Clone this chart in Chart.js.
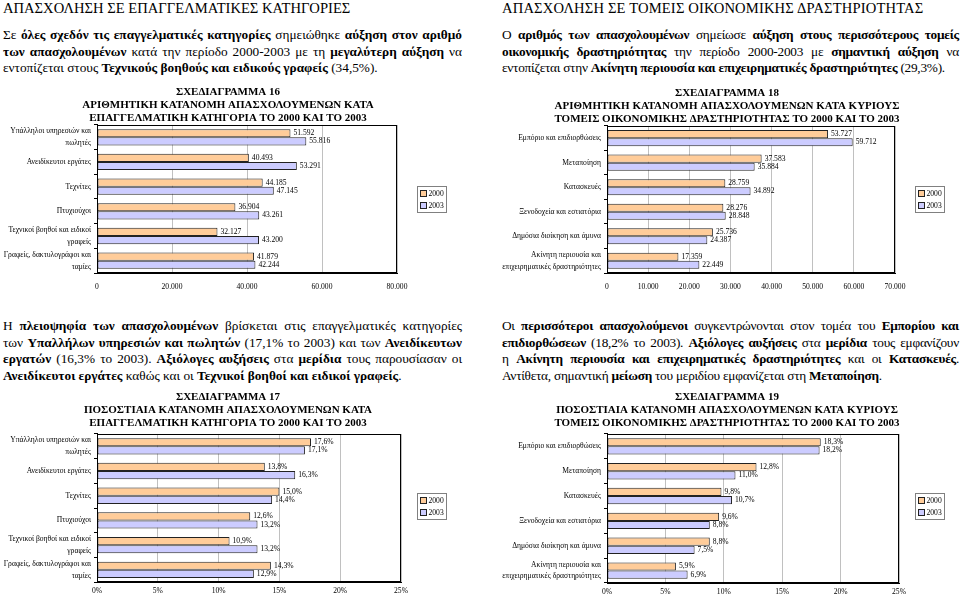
<!DOCTYPE html>
<html><head><meta charset="utf-8">
<script src="https://cdn.jsdelivr.net/npm/chart.js@4"></script>
<style>
body{margin:0;width:960px;height:597px;background:#fff;position:relative;overflow:hidden;font-family:'Liberation Serif',Tinos,'Times New Roman',serif;color:#000}
.h{position:absolute;font-size:14.6px;line-height:16px;top:0;white-space:nowrap}
.p{position:absolute;font-size:13.3px;line-height:16.5px;margin:0}
.p.r{letter-spacing:-0.25px}
.p div{text-align:justify;text-align-last:justify}
.p div.l{text-align:left;text-align-last:left}
canvas{position:absolute}
</style></head><body>
<div class="h" style="left:3px">ΑΠΑΣΧΟΛΗΣΗ ΣΕ ΕΠΑΓΓΕΛΜΑΤΙΚΕΣ ΚΑΤΗΓΟΡΙΕΣ</div>
<div class="h" style="left:502px;letter-spacing:0.15px">ΑΠΑΣΧΟΛΗΣΗ ΣΕ ΤΟΜΕΙΣ ΟΙΚΟΝΟΜΙΚΗΣ ΔΡΑΣΤΗΡΙΟΤΗΤΑΣ</div>
<div class="p" style="left:3px;top:27px;width:459px">
<div>Σε <b>όλες σχεδόν τις επαγγελματικές κατηγορίες</b> σημειώθηκε <b>αύξηση στον αριθμό</b></div>
<div><b>των απασχολουμένων</b> κατά την περίοδο 2000-2003 με τη <b>μεγαλύτερη αύξηση</b> να</div>
<div class="l">εντοπίζεται στους <b>Τεχνικούς βοηθούς και ειδικούς γραφείς</b> (34,5%).</div>
</div>
<div class="p r" style="left:502px;top:27px;width:457px">
<div>Ο <b>αριθμός των απασχολουμένων</b> σημείωσε <b>αύξηση στους περισσότερους τομείς</b></div>
<div><b>οικονομικής δραστηριότητας</b> την περίοδο 2000-2003 με <b>σημαντική αύξηση</b> να</div>
<div class="l">εντοπίζεται στην <b>Ακίνητη περιουσία και επιχειρηματικές δραστηριότητες</b> (29,3%).</div>
</div>
<div class="p" style="left:3px;top:318px;width:459px">
<div>Η <b>πλειοψηφία των απασχολουμένων</b> βρίσκεται στις επαγγελματικές κατηγορίες</div>
<div>των <b>Υπαλλήλων υπηρεσιών και πωλητών</b> (17,1% το 2003) και των <b>Ανειδίκευτων</b></div>
<div><b>εργατών</b> (16,3% το 2003). <b>Αξιόλογες αυξήσεις</b> στα <b>μερίδια</b> τους παρουσίασαν οι</div>
<div class="l"><b>Ανειδίκευτοι εργάτες</b> καθώς και οι <b>Τεχνικοί βοηθοί και ειδικοί γραφείς</b>.</div>
</div>
<div class="p r" style="left:502px;top:318px;width:457px">
<div>Οι <b>περισσότεροι απασχολούμενοι</b> συγκεντρώνονται στον τομέα του <b>Εμπορίου και</b></div>
<div><b>επιδιορθώσεων</b> (18,2% το 2003). <b>Αξιόλογες αυξήσεις</b> στα <b>μερίδια</b> τους εμφανίζουν</div>
<div>η <b>Ακίνητη περιουσία και επιχειρηματικές δραστηριότητες</b> και οι <b>Κατασκευές</b>.</div>
<div class="l">Αντίθετα, σημαντική <b>μείωση</b> του μεριδίου εμφανίζεται στη <b>Μεταποίηση</b>.</div>
</div>
<canvas id="c16" width="456" height="211" style="left:0;top:86px"></canvas>
<canvas id="c18" width="454" height="210" style="left:500px;top:87px"></canvas>
<canvas id="c17" width="456" height="206" style="left:0;top:391px"></canvas>
<canvas id="c19" width="454" height="206" style="left:500px;top:391px"></canvas>
<script>
// ---- data ----
const seriesLabels = ["2000", "2003"];
const occupations = [["Υπάλληλοι υπηρεσιών και","πωλητές"], "Ανειδίκευτοι εργάτες", "Τεχνίτες", "Πτυχιούχοι", ["Τεχνικοί βοηθοί και ειδικοί","γραφείς"], ["Γραφείς, δακτυλογράφοι και","ταμίες"]];
const sectors = ["Εμπόριο και επιδιορθώσεις", "Μεταποίηση", "Κατασκευές", "Ξενοδοχεία και εστιατόρια", "Δημόσια διοίκηση και άμυνα", ["Ακίνητη περιουσία και","επιχειρηματικές δραστηριότητες"]];
const occCount2000 = [51592, 40493, 44185, 36904, 32127, 41879];
const occCount2003 = [55816, 53291, 47145, 43261, 43200, 42244];
const occPct2000 = [17.6, 13.8, 15.0, 12.6, 10.9, 14.3];
const occPct2003 = [17.1, 16.3, 14.4, 13.2, 13.2, 12.9];
const secCount2000 = [53727, 37583, 28759, 28276, 25736, 17359];
const secCount2003 = [59712, 35884, 34892, 28848, 24387, 22449];
const secPct2000 = [18.3, 12.8, 9.8, 9.6, 8.8, 5.9];
const secPct2003 = [18.2, 11.0, 10.7, 8.8, 7.5, 6.9];
const title16 = ["ΣΧΕΔΙΑΓΡΑΜΜΑ 16", "ΑΡΙΘΜΗΤΙΚΗ ΚΑΤΑΝΟΜΗ ΑΠΑΣΧΟΛΟΥΜΕΝΩΝ ΚΑΤΑ", "ΕΠΑΓΓΕΛΜΑΤΙΚΗ ΚΑΤΗΓΟΡΙΑ ΤΟ 2000 ΚΑΙ ΤΟ 2003"];
const title17 = ["ΣΧΕΔΙΑΓΡΑΜΜΑ 17", "ΠΟΣΟΣΤΙΑΙΑ ΚΑΤΑΝΟΜΗ ΑΠΑΣΧΟΛΟΥΜΕΝΩΝ ΚΑΤΑ", "ΕΠΑΓΓΕΛΜΑΤΙΚΗ ΚΑΤΗΓΟΡΙΑ ΤΟ 2000 ΚΑΙ ΤΟ 2003"];
const title18 = ["ΣΧΕΔΙΑΓΡΑΜΜΑ 18", "ΑΡΙΘΜΗΤΙΚΗ ΚΑΤΑΝΟΜΗ ΑΠΑΣΧΟΛΟΥΜΕΝΩΝ ΚΑΤΑ ΚΥΡΙΟΥΣ", "ΤΟΜΕΙΣ ΟΙΚΟΝΟΜΙΚΗΣ ΔΡΑΣΤΗΡΙΟΤΗΤΑΣ ΤΟ 2000 ΚΑΙ ΤΟ 2003"];
const title19 = ["ΣΧΕΔΙΑΓΡΑΜΜΑ 19", "ΠΟΣΟΣΤΙΑΙΑ ΚΑΤΑΝΟΜΗ ΑΠΑΣΧΟΛΟΥΜΕΝΩΝ ΚΑΤΑ ΚΥΡΙΟΥΣ", "ΤΟΜΕΙΣ ΟΙΚΟΝΟΜΙΚΗΣ ΔΡΑΣΤΗΡΙΟΤΗΤΑΣ ΤΟ 2000 ΚΑΙ ΤΟ 2003"];

// ---- rendering ----
const FF = "'Liberation Serif', Tinos, 'Times New Roman', serif";
const SMALL = 7.6;
Chart.defaults.font.family = FF;
const numFmt = v => Math.round(v).toString().replace(/\B(?=(\d{3})+(?!\d))/g, ".");
const pctFmt = v => v.toFixed(1).replace(".", ",") + "%";
const pctTick = v => v + "%";

const extras = {
  id: "extras",
  afterDatasetsDraw(chart, args, o) {
    const ctx = chart.ctx, a = chart.chartArea;
    ctx.save();
    ctx.strokeStyle = "#000"; ctx.lineWidth = 1;
    ctx.strokeRect(Math.round(a.left) + 0.5, Math.round(a.top) + 0.5, Math.round(a.right - a.left) - 1, Math.round(a.bottom - a.top) - 1);
    ctx.font = SMALL + "px " + FF; ctx.fillStyle = "#000"; ctx.textBaseline = "middle"; ctx.textAlign = "left";
    chart.data.datasets.forEach((ds, i) => {
      chart.getDatasetMeta(i).data.forEach((el, j) => {
        ctx.fillText(o.fmt(ds.data[j]), el.x + 3, el.y);
      });
    });
    // legend box
    const lx = Math.round(a.right + o.legDx) + 0.5, ly = Math.round((a.top + a.bottom) / 2 - 13 + o.legDy) + 0.5;
    ctx.strokeStyle = "#808080";
    ctx.strokeRect(lx, ly, 29, 26);
    chart.data.datasets.forEach((ds, i) => {
      const yy = ly + 7 + i * 12;
      ctx.fillStyle = ds.backgroundColor;
      ctx.fillRect(lx + 3, yy - 3, 6, 6);
      ctx.strokeStyle = "#222";
      ctx.strokeRect(lx + 3, yy - 3, 6, 6);
      ctx.fillStyle = "#000";
      ctx.fillText(ds.label, lx + 11, yy + 0.5);
    });
    ctx.restore();
  }
};

function makeChart(id, cats, a, b, o) {
  new Chart(document.getElementById(id), {
    type: "bar",
    data: {
      labels: cats,
      datasets: [
        { label: seriesLabels[0], data: a, xAxisID: "x", yAxisID: "y", backgroundColor: "#FFCC99", borderColor: "#222", borderWidth: 1, borderSkipped: false },
        { label: seriesLabels[1], data: b, xAxisID: "x", yAxisID: "y", backgroundColor: "#CCCCFF", borderColor: "#222", borderWidth: 1, borderSkipped: false }
      ]
    },
    options: {
      indexAxis: "y",
      responsive: false,
      animation: false,
      events: [],
      categoryPercentage: 0.66,
      barPercentage: 1.0,
      layout: { padding: 0 },
      plugins: {
        legend: { display: false },
        tooltip: { enabled: false },
        title: { display: true, text: o.title, color: "#000", font: { family: FF, size: 11, weight: "bold", lineHeight: 1.18 }, padding: { top: 0, bottom: o.tpad } },
        extras: { fmt: o.fmt, legDx: o.legDx, legDy: o.legDy }
      },
      scales: {
        x: {
          min: 0, max: o.max,
          ticks: { stepSize: o.step, callback: o.tick, color: "#000", font: { family: FF, size: SMALL }, padding: o.xpad, maxRotation: 0, autoSkip: false },
          grid: { color: "#c0c0c0", drawTicks: false },
          border: { color: "#000" },
          afterFit(s) { s.height = o.xh; }
        },
        y: {
          ticks: { color: "#000", font: { family: FF, size: SMALL, lineHeight: 1.55 }, padding: 3, autoSkip: false },
          grid: { display: true, drawOnChartArea: false, offset: true, tickLength: 3, color: "#000" },
          border: { color: "#000" },
          afterFit(s) { s.width = o.yw; }
        },
        y2: {
          type: "category", position: "right", display: true,
          grid: { display: false }, ticks: { display: false }, border: { display: false },
          afterFit(s) { s.width = o.pr; }
        }
      }
    },
    plugins: [extras]
  });
}

makeChart("c16", occupations, occCount2000, occCount2003, { title: title16, max: 80000, step: 20000, tick: numFmt, fmt: numFmt, pr: 59, yw: 97, xh: 24, xpad: 9, tpad: 0, legDx: 20, legDy: 0 });
makeChart("c18", sectors, secCount2000, secCount2003, { title: title18, max: 70000, step: 10000, tick: numFmt, fmt: numFmt, pr: 59, yw: 107, xh: 24, xpad: 9, tpad: 0, legDx: 20, legDy: 0 });
makeChart("c17", occupations, occPct2000, occPct2003, { title: title17, max: 25, step: 5, tick: pctTick, fmt: pctFmt, pr: 55, yw: 97, xh: 14, xpad: 4, tpad: 4, legDx: 16, legDy: -2 });
makeChart("c19", sectors, secPct2000, secPct2003, { title: title19, max: 25, step: 5, tick: pctTick, fmt: pctFmt, pr: 55, yw: 107, xh: 14, xpad: 4, tpad: 4, legDx: 16, legDy: -2 });
</script>
</body></html>
